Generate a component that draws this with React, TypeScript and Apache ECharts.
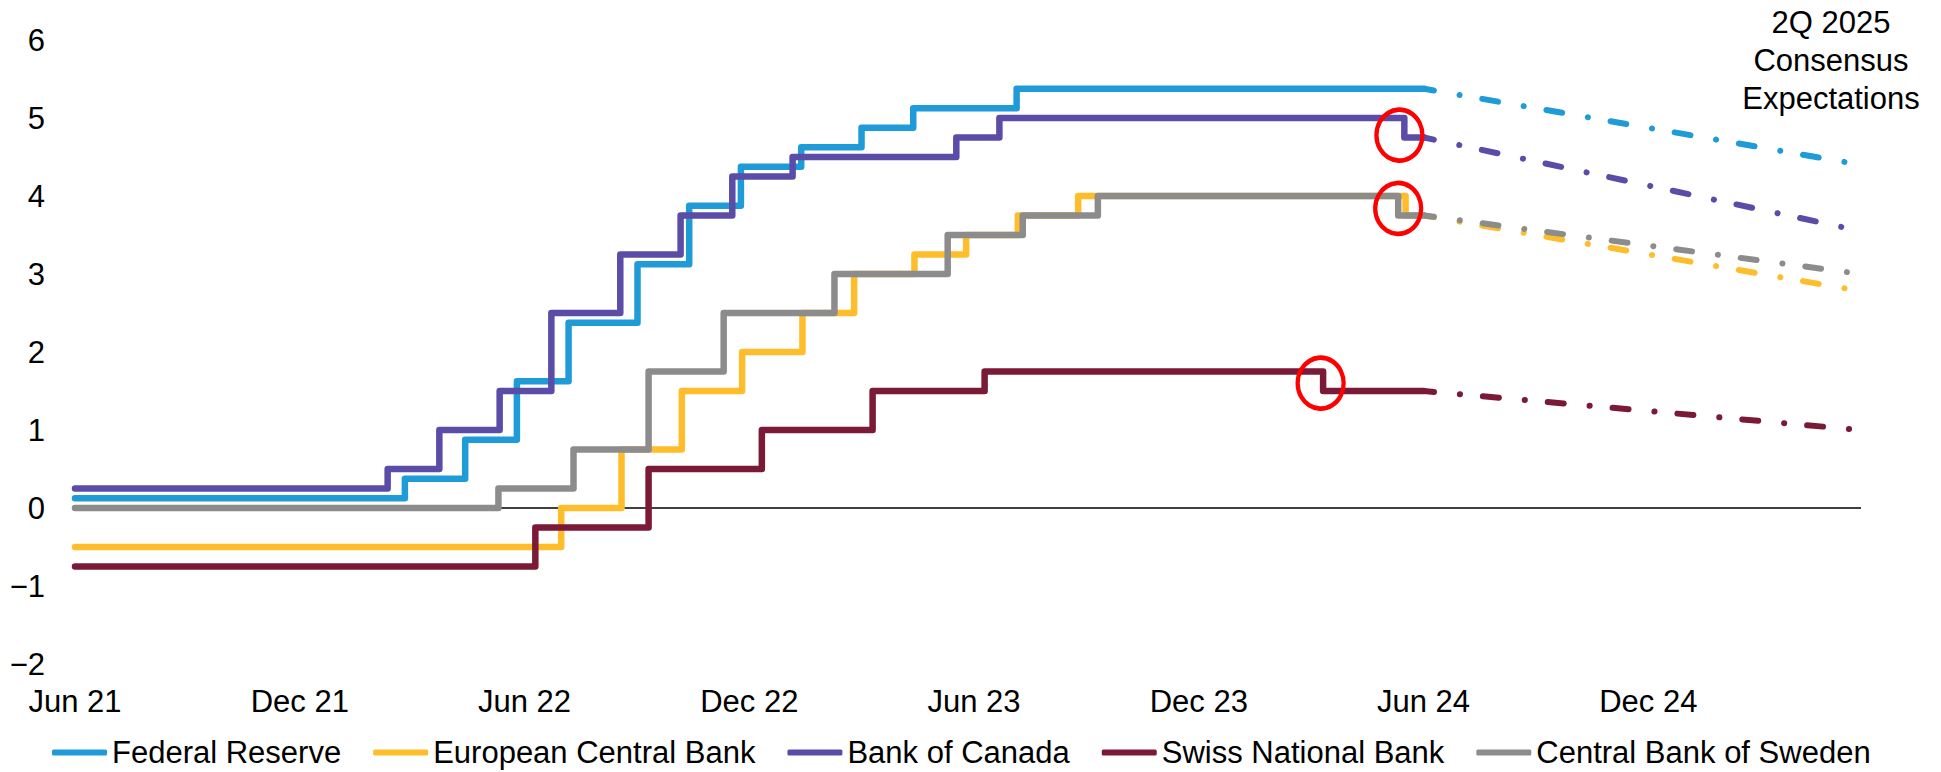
import { useEffect, useRef } from "react";
import * as echarts from "echarts";

// Day 0 of the horizontal axis and the key dates of the chart
const startDate = "2021-06-21";
const lastObservedDate = "2024-06-21";
const consensusDate = "2025-06-11";

// Axis labels, one every half year
const xTickLabels = ["Jun 21", "Dec 21", "Jun 22", "Dec 22", "Jun 23", "Dec 23", "Jun 24", "Dec 24"];
const halfYearDays = 182.6;

const banks = [
  "Federal Reserve",
  "European Central Bank",
  "Bank of Canada",
  "Swiss National Bank",
  "Central Bank of Sweden",
];
const bankColors = ["#1F9CD8", "#FEBD2A", "#5A4CA7", "#7B1A37", "#8C8C8C"];

// Policy rate changes (date of change, new rate, %)
const fedDates = [
  "2021-06-21", "2022-03-16", "2022-05-04", "2022-06-15", "2022-07-27", "2022-09-21",
  "2022-11-02", "2022-12-14", "2023-02-01", "2023-03-22", "2023-05-03", "2023-07-26",
];
const fedRates = [0.125, 0.375, 0.875, 1.625, 2.375, 3.125, 3.875, 4.375, 4.625, 4.875, 5.125, 5.375];

const ecbDates = [
  "2021-06-21", "2022-07-21", "2022-09-08", "2022-10-27", "2022-12-15", "2023-02-02",
  "2023-03-16", "2023-05-04", "2023-06-15", "2023-07-27", "2023-09-14", "2024-06-06",
];
const ecbRates = [-0.5, 0, 0.75, 1.5, 2.0, 2.5, 3.0, 3.25, 3.5, 3.75, 4.0, 3.75];

const bocDates = [
  "2021-06-21", "2022-03-02", "2022-04-13", "2022-06-01", "2022-07-13", "2022-09-07",
  "2022-10-26", "2022-12-07", "2023-01-25", "2023-06-07", "2023-07-12", "2024-06-05",
];
const bocRates = [0.25, 0.5, 1.0, 1.5, 2.5, 3.25, 3.75, 4.25, 4.5, 4.75, 5.0, 4.75];

const snbDates = [
  "2021-06-21", "2022-06-30", "2022-09-30", "2022-12-31", "2023-03-31", "2023-06-30", "2024-03-31",
];
const snbRates = [-0.75, -0.25, 0.5, 1.0, 1.5, 1.75, 1.5];

const riksDates = [
  "2021-06-21", "2022-05-31", "2022-07-31", "2022-09-30", "2022-11-30", "2023-02-28",
  "2023-05-31", "2023-07-31", "2023-09-30", "2024-05-31",
];
const riksRates = [0, 0.25, 0.75, 1.75, 2.5, 3.0, 3.5, 3.75, 4.0, 3.75];

// 2Q 2025 consensus expectations, in bank order
const consensus2Q25 = [4.4, 2.78, 3.55, 1.0, 3.0];

// Recent cuts that are ringed (bank index, date, rate)
const ringBanks = [2, 4, 3];
const ringDates = ["2024-06-01", "2024-05-31", "2024-03-29"];
const ringRates = [4.78, 3.84, 1.6];

const FONT = '"Liberation Sans", Arial, sans-serif';

const dayIndex = (iso: string) => {
  const [y, m, d] = iso.split("-").map(Number);
  const [y0, m0, d0] = startDate.split("-").map(Number);
  return (Date.UTC(y, m - 1, d) - Date.UTC(y0, m0 - 1, d0)) / 86400000;
};

const histories: [string[], number[]][] = [
  [fedDates, fedRates],
  [ecbDates, ecbRates],
  [bocDates, bocRates],
  [snbDates, snbRates],
  [riksDates, riksRates],
];

export default function App() {
  const ref = useRef<HTMLDivElement>(null);

  useEffect(() => {
    if (!ref.current) return;
    const chart = echarts.init(ref.current, undefined, { renderer: "svg" });

    const stepSeries = histories.map(([dates, rates], i) => {
      const data = dates.map((d, j) => [dayIndex(d), rates[j]]);
      data.push([dayIndex(lastObservedDate), rates[rates.length - 1]]);
      const rings = ringBanks
        .map((b, k) => (b === i ? { coord: [dayIndex(ringDates[k]), ringRates[k]] } : null))
        .filter(Boolean);
      return {
        name: banks[i],
        type: "line",
        step: "end",
        data,
        symbol: "none",
        color: bankColors[i],
        lineStyle: { width: 6.5, color: bankColors[i], cap: "round", join: "round" },
        markPoint: rings.length
          ? {
              symbol: "circle",
              symbolSize: [46, 51],
              silent: true,
              label: { show: false },
              itemStyle: { color: "rgba(0,0,0,0)", borderColor: "#FF0000", borderWidth: 4.5 },
              data: rings,
            }
          : undefined,
        markLine:
          i === 0
            ? {
                z: 1,
                silent: true,
                symbol: "none",
                label: { show: false },
                lineStyle: { color: "#000", width: 1.5, type: "solid" },
                data: [{ yAxis: 0 }],
              }
            : undefined,
      };
    });

    const forecastSeries = histories.map(([, rates], i) => ({
      name: banks[i],
      type: "line",
      data: [
        [dayIndex(lastObservedDate), rates[rates.length - 1]],
        [dayIndex(consensusDate), consensus2Q25[i]],
      ],
      symbol: "none",
      color: bankColors[i],
      lineStyle: {
        width: 6,
        color: bankColors[i],
        type: [16, 26, 0.1, 23],
        dashOffset: 6,
        cap: "round",
      },
    }));

    chart.setOption({
      animation: false,
      textStyle: { fontFamily: FONT },
      grid: { left: 75, right: 80, top: 40, bottom: 108, containLabel: false },
      xAxis: {
        type: "value",
        min: 0,
        max: dayIndex(consensusDate),
        interval: halfYearDays,
        axisLine: { show: false },
        axisTick: { show: false },
        splitLine: { show: false },
        axisLabel: {
          margin: 22,
          fontSize: 31,
          color: "#000",
          fontFamily: FONT,
          showMaxLabel: false,
          formatter: (v: number) => {
            const k = v / halfYearDays;
            const r = Math.round(k);
            return Math.abs(k - r) < 1e-3 ? xTickLabels[r] ?? "" : "";
          },
        },
      },
      yAxis: {
        type: "value",
        min: -2,
        max: 6,
        interval: 1,
        axisLine: { show: false },
        axisTick: { show: false },
        splitLine: { show: false },
        axisLabel: {
          margin: 30,
          fontSize: 31,
          color: "#000",
          fontFamily: FONT,
          formatter: (v: number) => (v < 0 ? "\u2212" + Math.abs(v) : String(v)),
        },
      },
      legend: {
        data: banks,
        top: 732,
        left: 47,
        icon: "roundRect",
        itemWidth: 55,
        itemHeight: 6,
        itemGap: 32,
        textStyle: { fontSize: 31, color: "#000", fontFamily: FONT },
      },
      graphic: [
        {
          type: "text",
          x: 1831,
          y: 3,
          style: {
            text: "2Q 2025\nConsensus\nExpectations",
            font: `31px ${FONT}`,
            fill: "#000",
            textAlign: "center",
            textVerticalAlign: "top",
            lineHeight: 38,
          },
        },
      ],
      series: [...stepSeries, ...forecastSeries],
    });

    return () => chart.dispose();
  }, []);

  return (
    <div
      ref={ref}
      style={{ position: "fixed", left: 0, top: 0, width: 1941, height: 772, background: "#fff" }}
    />
  );
}
